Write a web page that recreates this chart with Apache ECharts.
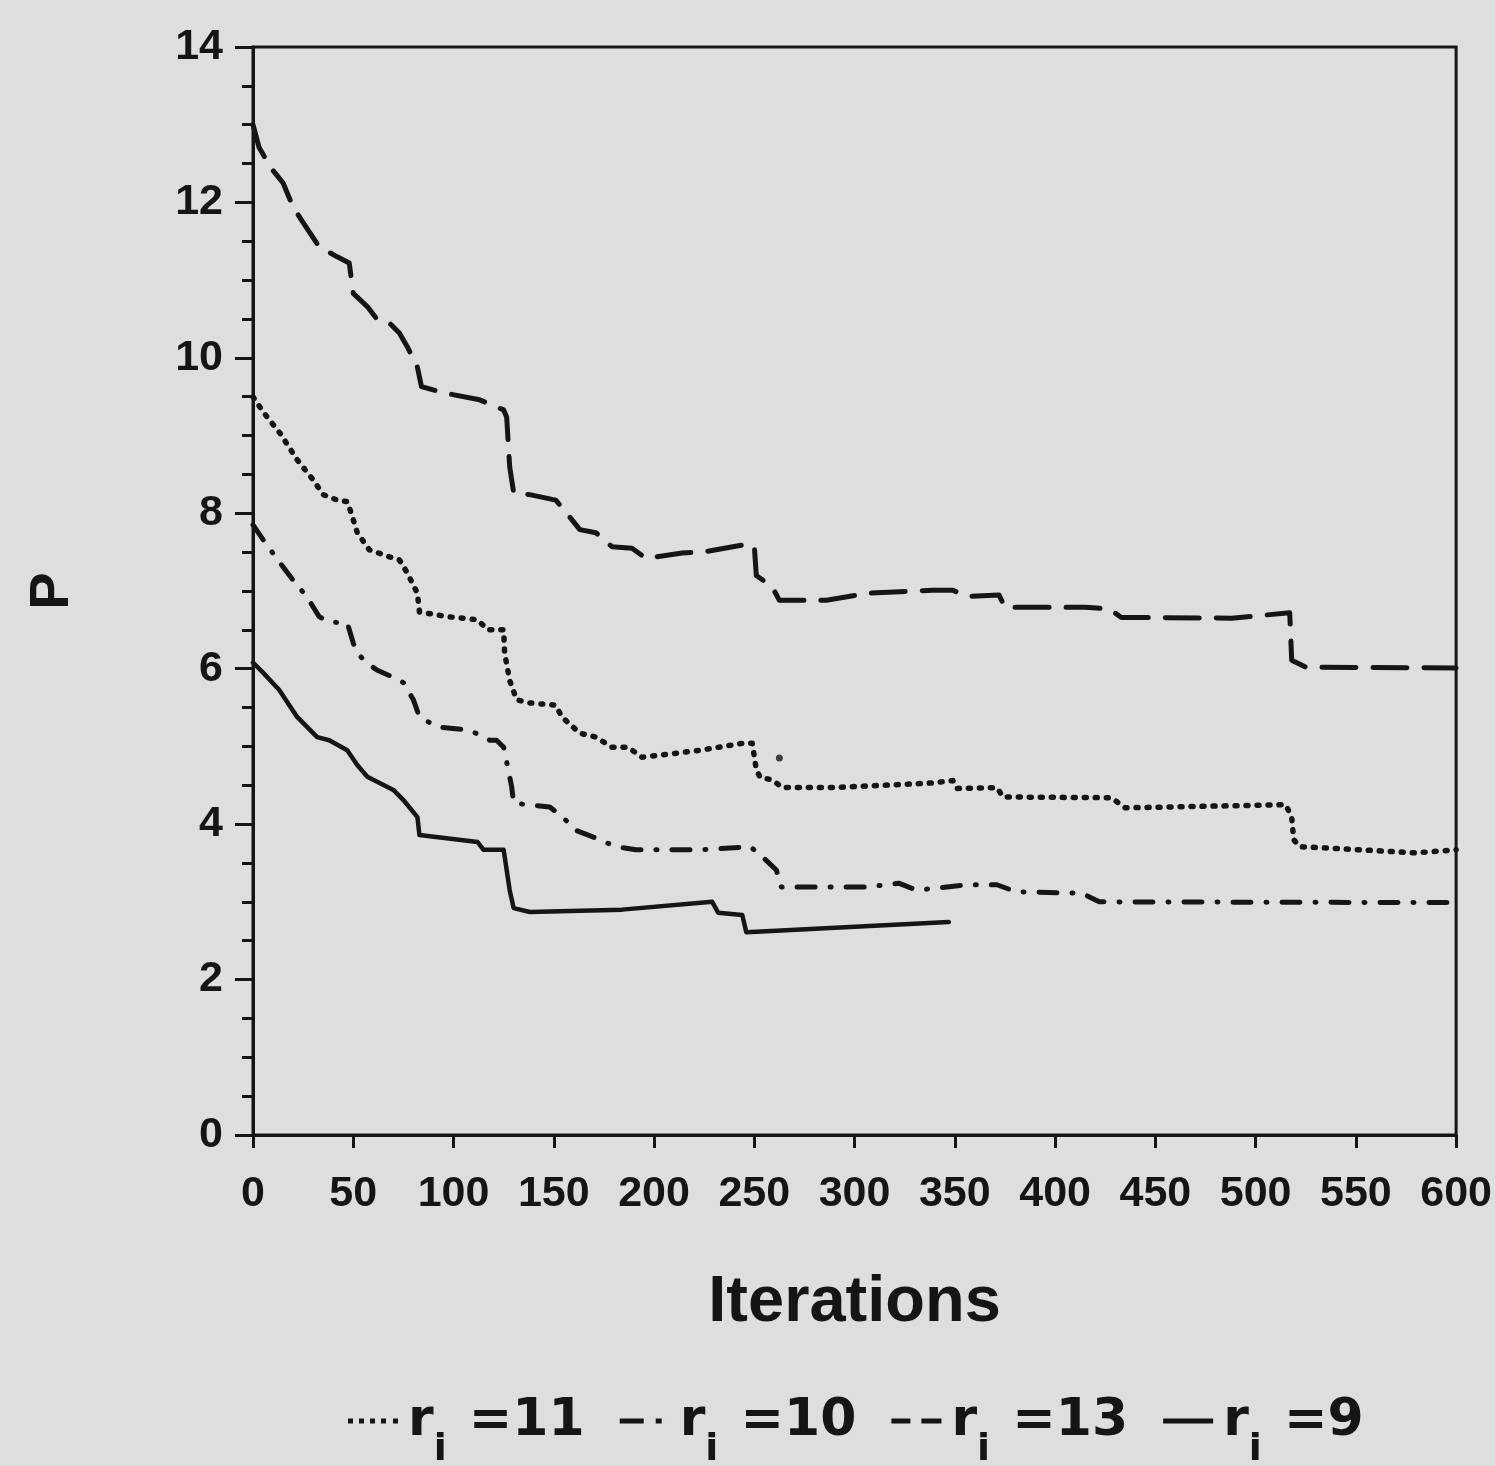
<!DOCTYPE html>
<html>
<head>
<meta charset="utf-8">
<title>P vs Iterations</title>
<script src="https://cdn.jsdelivr.net/npm/echarts@6/dist/echarts.min.js"></script>
<style>
  html, body { margin: 0; padding: 0; background: #dcdedf; }
  #chart { width: 1495px; height: 1466px; }
</style>
</head>
<body>
<div id="chart"></div>
<script>
// Series values: iteration number and P for each r_i run
const iterR11 = [0, 2, 7, 13.5, 22, 30, 35, 42, 47, 49, 52, 58, 68, 73, 77, 82, 83, 97, 112, 117, 125, 125.5, 128, 131.5, 138, 151, 154, 163, 171, 179, 187, 194, 223, 244, 249, 251, 253, 259, 264, 289, 339, 349, 351, 371, 374, 428, 435, 515, 518, 519, 522, 538, 580, 600];
const pR11    = [9.5, 9.42, 9.24, 9.03, 8.69, 8.43, 8.24, 8.17, 8.15, 8.0, 7.75, 7.53, 7.44, 7.40, 7.23, 6.97, 6.73, 6.67, 6.63, 6.50, 6.50, 6.20, 5.85, 5.60, 5.56, 5.53, 5.38, 5.17, 5.12, 4.99, 4.99, 4.86, 4.95, 5.04, 5.04, 4.70, 4.60, 4.57, 4.47, 4.47, 4.53, 4.56, 4.46, 4.47, 4.35, 4.34, 4.21, 4.25, 4.09, 3.80, 3.71, 3.69, 3.63, 3.67];

const iterR10 = [0, 5, 13.5, 20, 27, 33, 38, 47, 50, 52, 57, 62, 70, 75, 80, 83, 92, 108, 118, 121.5, 125, 127, 129, 130, 148, 154.5, 161, 171, 181, 191, 223, 248, 254, 261, 263.5, 306, 322, 331, 356, 371, 380.5, 413.5, 422, 600];
const pR10    = [7.85, 7.66, 7.36, 7.14, 6.92, 6.67, 6.60, 6.59, 6.33, 6.20, 6.07, 5.98, 5.89, 5.82, 5.60, 5.38, 5.25, 5.21, 5.08, 5.08, 4.99, 4.74, 4.48, 4.27, 4.22, 4.09, 3.92, 3.82, 3.71, 3.67, 3.67, 3.71, 3.58, 3.41, 3.19, 3.19, 3.24, 3.15, 3.22, 3.22, 3.13, 3.11, 3.00, 2.99];

const iterR13 = [0, 3, 8.5, 15, 20, 25, 33, 42, 48, 50, 57, 62, 68, 73, 77, 82, 84, 95, 113, 125, 126.5, 128, 130, 138, 151, 158, 163, 171, 179, 189, 196, 214, 224, 244, 250, 251, 259, 262.5, 286, 306, 339, 349, 356, 372, 375, 415, 427, 433, 488, 517, 518, 525, 600];
const pR13    = [13.0, 12.71, 12.46, 12.25, 11.94, 11.74, 11.43, 11.30, 11.22, 10.83, 10.66, 10.49, 10.45, 10.32, 10.14, 9.88, 9.63, 9.55, 9.46, 9.33, 9.24, 8.60, 8.26, 8.24, 8.17, 7.95, 7.79, 7.75, 7.57, 7.55, 7.42, 7.49, 7.50, 7.59, 7.58, 7.20, 7.05, 6.88, 6.88, 6.97, 7.01, 7.01, 6.93, 6.95, 6.79, 6.79, 6.77, 6.66, 6.65, 6.72, 6.11, 6.02, 6.01];

const iterR9  = [0, 5, 13, 22, 32, 38, 47, 52, 57, 70, 75, 82, 83, 112, 115, 125, 128, 130, 138, 184, 229, 232, 244, 246, 347];
const pR9     = [6.08, 5.95, 5.73, 5.38, 5.12, 5.08, 4.95, 4.76, 4.61, 4.44, 4.31, 4.09, 3.86, 3.77, 3.67, 3.67, 3.15, 2.92, 2.87, 2.90, 3.00, 2.86, 2.83, 2.61, 2.74];

// Isolated plotted dot next to the r_i = 11 curve
const strayIter = [262.5];
const strayP    = [4.85];

// Legend order and labels
const seriesNames = ['r11', 'r10', 'r13', 'r9'];
const legendValues = { r11: '11', r10: '10', r13: '13', r9: '9' };

// Axis ticks
const xTickMin = 0, xTickMax = 600, xTickStep = 50;
const yTickMin = 0, yTickMax = 14, yTickStep = 2;

const zip = (xs, ys) => xs.map((x, i) => [x, ys[i]]);

const INK = '#151515';
const tickFont = '"Liberation Sans", Arial, sans-serif';
const textFont = '"Liberation Sans", Arial, sans-serif';
const legendFont = '"DejaVu Sans", "Liberation Sans", sans-serif';

// Legend swatches drawn as small filled paths (dots, dash-dot, dashes, solid)
const legendIcons = {
  r11: 'path://M0,0h5v5h-5z M11,0h5v5h-5z M22,0h5v5h-5z M33,0h5v5h-5z M45,0h5v5h-5z',
  r10: 'path://M0,0h24v5h-24z M36,0h6v5h-6z M50,0h0.01v5h-0.01z',
  r13: 'path://M0,0h19v5h-19z M30,0h20v5h-20z',
  r9:  'path://M0,0h50v5h-50z'
};

function lineSeries(name, data, dash, width) {
  return {
    name: name,
    type: 'line',
    data: data,
    symbol: 'none',
    smooth: false,
    lineStyle: { color: INK, width: width, type: dash, cap: 'round', join: 'round' },
    itemStyle: { color: INK },
    z: 3
  };
}

const chart = echarts.init(document.getElementById('chart'), null, { renderer: 'canvas' });

chart.setOption({
  backgroundColor: '#dcdedf',
  animation: false,
  grid: {
    left: 253, right: 38, top: 47, bottom: 331,
    show: true, borderColor: INK, borderWidth: 3, backgroundColor: 'transparent'
  },
  xAxis: {
    type: 'value',
    min: xTickMin, max: xTickMax, interval: xTickStep,
    axisLine: { lineStyle: { color: INK, width: 3 } },
    axisTick: { length: 13, lineStyle: { color: INK, width: 3 } },
    splitLine: { show: false },
    axisLabel: {
      margin: 38, color: INK,
      fontFamily: tickFont, fontWeight: 'bold', fontSize: 43
    },
    name: 'Iterations',
    nameLocation: 'middle',
    nameGap: 136,
    nameTextStyle: { color: INK, fontFamily: textFont, fontWeight: 'bold', fontSize: 65 }
  },
  yAxis: {
    type: 'value',
    min: yTickMin, max: yTickMax, interval: yTickStep,
    axisLine: { lineStyle: { color: INK, width: 3 } },
    axisTick: { length: 18, lineStyle: { color: INK, width: 3 } },
    minorTick: { show: true, splitNumber: 4, length: 11, lineStyle: { color: INK, width: 3 } },
    splitLine: { show: false },
    axisLabel: {
      margin: 30, color: INK,
      fontFamily: tickFont, fontWeight: 'bold', fontSize: 43
    },
    name: 'P',
    nameLocation: 'middle',
    nameRotate: 90,
    nameGap: 172,
    nameTextStyle: { color: INK, fontFamily: textFont, fontWeight: 'bold', fontSize: 56 }
  },
  legend: {
    data: seriesNames.map(n => ({ name: n, icon: legendIcons[n] })),
    left: 343,
    top: 1390,
    itemWidth: 52,
    itemHeight: 5,
    itemGap: 35,
    formatter: function (name) {
      return '{r|r}{s|i}{v| =' + legendValues[name] + '}';
    },
    textStyle: {
      color: INK,
      fontFamily: legendFont,
      fontWeight: 'bold',
      fontSize: 52,
      rich: {
        r: { fontFamily: legendFont, fontWeight: 'bold', fontSize: 52, color: INK, padding: [0, 0, 0, 4] },
        s: { fontFamily: legendFont, fontWeight: 'bold', fontSize: 38, color: INK, padding: [58, 4, 0, 0] },
        v: { fontFamily: legendFont, fontWeight: 'bold', fontSize: 52, color: INK }
      }
    }
  },
  series: [
    lineSeries('r11', zip(iterR11, pR11), [2, 9], 5.5),
    lineSeries('r10', zip(iterR10, pR10), [18, 15, 1, 15], 5),
    lineSeries('r13', zip(iterR13, pR13), [34, 17], 5),
    lineSeries('r9', zip(iterR9, pR9), 'solid', 4.5),
    {
      type: 'scatter',
      data: zip(strayIter, strayP),
      symbol: 'circle',
      symbolSize: 7,
      itemStyle: { color: INK },
      silent: true,
      z: 3
    }
  ]
});
</script>
</body>
</html>
